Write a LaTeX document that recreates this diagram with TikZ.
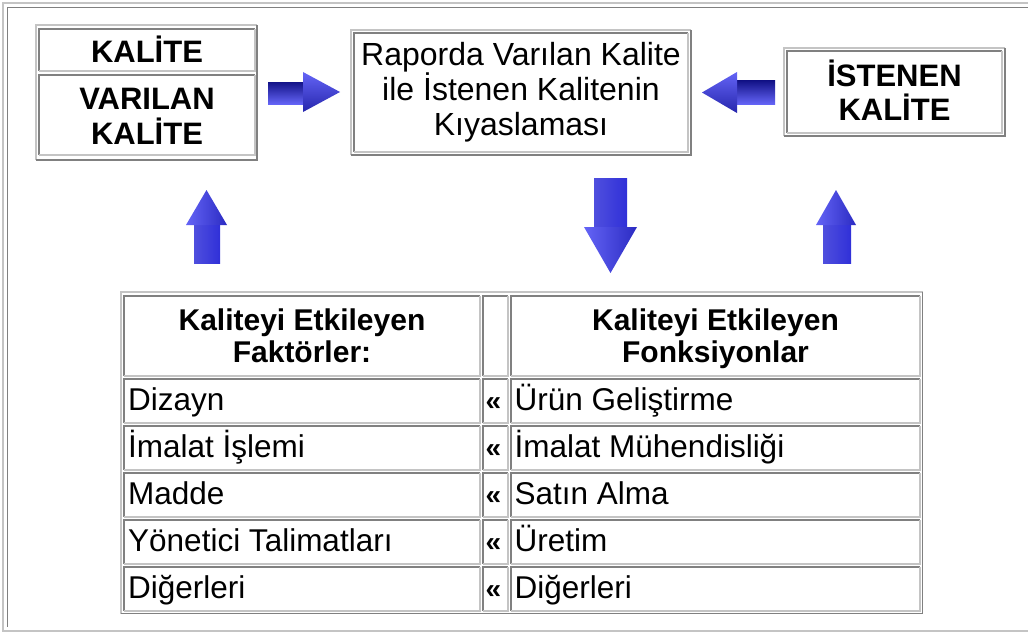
\documentclass[tikz,border=0pt]{standalone}
\usepackage{fontspec}
\setmainfont{Liberation Sans}
\usetikzlibrary{fit}
\definecolor{bl}{HTML}{C4C4C4}
\definecolor{bd}{HTML}{808080}
\definecolor{aL}{HTML}{6464F6}
\definecolor{aM}{HTML}{3030D8}
\definecolor{aD}{HTML}{131388}
\tikzset{
  cframe/.style={fit={#1}, inner sep=0pt, outer sep=0pt},
  lite/.style={draw=bl, line width=1.2pt},
  dark/.style={draw=bd, line width=1.2pt},
  bigb/.style={font=\fontsize{31}{34.5}\selectfont\bfseries, align=center, inner sep=0pt, anchor=base},
  regc/.style={font=\fontsize{32}{35}\selectfont, align=center, inner sep=0pt, anchor=base},
  cellt/.style={font=\fontsize{31.5}{35}\selectfont, anchor=base west, inner sep=0pt},
  markt/.style={font=\fontsize{28}{35}\selectfont\bfseries, anchor=base west, inner sep=0pt},
  headt/.style={font=\fontsize{30}{31.7}\selectfont\bfseries, align=center, inner sep=0pt, anchor=base},
  vshaft/.style={left color=aM!85!white, middle color=aD, right color=aM},
  vhead/.style={left color=aL, right color=aM!90!black},
  hshaft/.style={top color=aD, middle color=aD!80!aM, bottom color=aL},
  hhead/.style={top color=aL, bottom color=aM!80!black},
}
\newcommand\outb[1]{\draw[lite] (#1.south west) -- (#1.north west) -- (#1.north east);
  \draw[dark] (#1.north east) -- (#1.south east) -- (#1.south west);}
\newcommand\inb[1]{\draw[dark] (#1.south west) -- (#1.north west) -- (#1.north east);
  \draw[lite] (#1.north east) -- (#1.south east) -- (#1.south west);}
\begin{document}
\begin{tikzpicture}[x=1pt,y=-1pt]
\useasboundingbox (0,0) rectangle (1028,634);
\fill[white] (0,0) rectangle (1028,634);
% outer frame
\draw[bl, line width=2pt] (1028,3) -- (3,3) -- (3,631) -- (1028,631);
\draw[bd, line width=1pt] (1028,8) -- (7.5,8) -- (7.5,627);

% left box
\node[cframe={(36,25)(257,160)}] (lb) {}; \outb{lb}
\node[cframe={(39,29)(255,71)}] (lc1) {}; \inb{lc1}
\node[cframe={(39,75)(255,155)}] (lc2) {}; \inb{lc2}
\node[bigb] (kal) at (147,63) {KALİTE};
\node[bigb] (var) at (147,144) {VARILAN\\KALİTE};

% middle box
\node[cframe={(351,30)(691,155)}] (mb) {}; \outb{mb}
\node[cframe={(354,33)(688,152)}] (mc) {}; \inb{mc}
\node[regc] (kiy) at (521,135) {Raporda Varılan Kalite\\ile İstenen Kalitenin\\Kıyaslaması};

% right box
\node[cframe={(784,48)(1005,136)}] (rb) {}; \outb{rb}
\node[cframe={(787,51)(1002,133)}] (rc) {}; \inb{rc}
\node[bigb] (ist) at (894.5,121) {İSTENEN\\KALİTE};

% arrows
\shade[hshaft] (268,82) rectangle (304,104);
\shade[hhead] (303,72) -- (340,92) -- (303,112) -- cycle;
\shade[hshaft] (737,81) rectangle (775,104);
\shade[hhead] (737,72) -- (702,92.5) -- (737,113) -- cycle;
\shade[vshaft] (194,225) rectangle (220,263);
\shade[vhead] (186,225) -- (206.5,190) -- (227,225) -- cycle;
\shade[vshaft] (594,178) rectangle (627,228);
\shade[vhead] (584,227) -- (610.5,273) -- (637,227) -- cycle;
\shade[vshaft] (823,225) rectangle (851,263);
\shade[vhead] (816,225) -- (836,190) -- (856,225) -- cycle;

% table
\node[cframe={(121,292)(922.5,613.5)}] (tb) {}; \outb{tb}
\node[cframe={(124,296)(480,376)}] (h1) {}; \inb{h1}
\node[cframe={(483,296)(508,376)}] (h2) {}; \inb{h2}
\node[cframe={(511,296)(920,376)}] (h3) {}; \inb{h3}
\node[headt] (h1t) at (302,362) {Kaliteyi Etkileyen\\Faktörler:};
\node[headt] (h3t) at (715.5,362) {Kaliteyi Etkileyen\\Fonksiyonlar};

\foreach \i/\a/\b in {0/Dizayn/Ürün Geliştirme, 1/İmalat İşlemi/İmalat Mühendisliği, 2/Madde/Satın Alma, 3/Yönetici Talimatları/Üretim, 4/Diğerleri/Diğerleri}{
  \pgfmathsetmacro\yt{379+47*\i}
  \pgfmathsetmacro\yb{\yt+44}
  \pgfmathsetmacro\ys{\yt+31}
  \node[cframe={(124,\yt)(480,\yb)}] (a\i) {}; \inb{a\i}
  \node[cframe={(483,\yt)(508,\yb)}] (m\i) {}; \inb{m\i}
  \node[cframe={(511,\yt)(920,\yb)}] (b\i) {}; \inb{b\i}
  \node[cellt] (at\i) at (128,\ys) {\a};
  \node[markt] (mt\i) at (485.5,\ys) {«};
  \node[cellt] (bt\i) at (514.5,\ys) {\b};
}
\end{tikzpicture}
\end{document}
